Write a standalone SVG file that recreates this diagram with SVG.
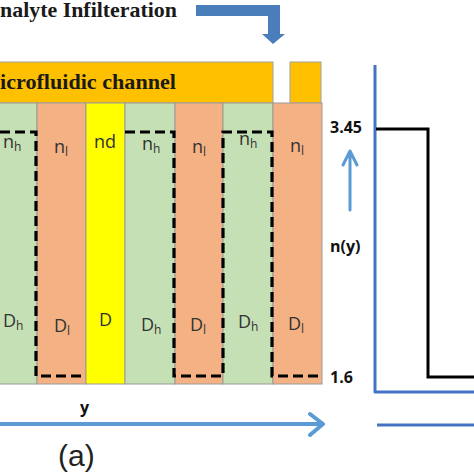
<svg xmlns="http://www.w3.org/2000/svg" width="474" height="474" viewBox="0 0 474 474">
<style>
.serif{font-family:"Liberation Serif","Times New Roman",serif;font-weight:bold;fill:#1a1a1a}
.lbl{font-family:"Open Sans","Liberation Sans",sans-serif;fill:#333;font-size:18px}
.sub{font-size:12px}
.num{font-family:"Open Sans","Liberation Sans",sans-serif;font-weight:bold;fill:#111;font-size:16px}
.green{fill:#C5E0B4;stroke:#9a9a9a;stroke-width:1}
.orange{fill:#F4B183;stroke:#9a9a9a;stroke-width:1}
.yellow{fill:#FFFF00;stroke:#9a9a9a;stroke-width:1}
.chan{fill:#FFC000;stroke:#a0a0a0;stroke-width:1}
.dash{fill:none;stroke:#000;stroke-width:3.2;stroke-dasharray:10 5}
</style>
<rect width="474" height="474" fill="#fff"/>

<g id="title">
<text class="serif" x="0" y="17" font-size="22" textLength="177" lengthAdjust="spacingAndGlyphs">nalyte Infilteration</text>
</g>

<g id="infiltration-arrow">
<polygon points="196,5 280,5 280,34 285,34 273,44 262,34 268,34 268,16 196,16" fill="#4A7EBB"/>
</g>

<g id="channel">
<rect class="chan" x="-2" y="62" width="275" height="41"/>
<rect class="chan" x="290" y="62" width="31" height="41"/>
<text class="serif" x="0" y="89" font-size="22" textLength="176" lengthAdjust="spacingAndGlyphs">icrofluidic channel</text>
</g>

<g id="layers">
<rect class="green" x="-2" y="103" width="39" height="281"/>
<rect class="orange" x="37" y="103" width="49" height="281"/>
<rect class="yellow" x="86" y="103" width="39" height="281"/>
<rect class="green" x="125" y="103" width="50" height="281"/>
<rect class="orange" x="175" y="103" width="48" height="281"/>
<rect class="green" x="223" y="103" width="50" height="281"/>
<rect class="orange" x="273" y="103" width="49" height="281"/>
</g>

<g id="profile-dashed">
<path class="dash" d="M0,132 H36 V376 H86"/>
<path class="dash" d="M125,132 H174 V376 H223 V132 H272 V376 H322"/>
</g>

<g id="layer-labels">
<text class="lbl" x="3" y="148">n<tspan class="sub" dy="3">h</tspan></text>
<text class="lbl" x="54" y="153">n<tspan class="sub" dy="3">l</tspan></text>
<text class="lbl" x="94" y="148">nd</text>
<text class="lbl" x="142" y="150">n<tspan class="sub" dy="3">h</tspan></text>
<text class="lbl" x="192" y="153">n<tspan class="sub" dy="3">l</tspan></text>
<text class="lbl" x="239" y="145">n<tspan class="sub" dy="3">h</tspan></text>
<text class="lbl" x="290" y="152">n<tspan class="sub" dy="3">l</tspan></text>

<text class="lbl" x="3" y="327">D<tspan class="sub" dy="3">h</tspan></text>
<text class="lbl" x="54" y="332">D<tspan class="sub" dy="3">l</tspan></text>
<text class="lbl" x="99" y="326">D</text>
<text class="lbl" x="141" y="331">D<tspan class="sub" dy="3">h</tspan></text>
<text class="lbl" x="190" y="331">D<tspan class="sub" dy="3">l</tspan></text>
<text class="lbl" x="238" y="328">D<tspan class="sub" dy="3">h</tspan></text>
<text class="lbl" x="288" y="330">D<tspan class="sub" dy="3">l</tspan></text>
</g>

<g id="axis-labels">
<text class="num" x="330" y="133">3.45</text>
<text class="num" x="330" y="252">n(y)</text>
<text class="num" x="330" y="383">1.6</text>
<text class="num" x="80" y="413">y</text>
<text x="58" y="466" font-family="Liberation Sans, Arial, sans-serif" font-size="30" fill="#222">(a)</text>
</g>

<g id="connectors" fill="none" stroke-linecap="round" stroke-linejoin="round">
<path d="M350,210 V151 M343,165 L350,151 L357,165" stroke="#5B9BD5" stroke-width="3"/>
<path d="M0,424 H322 M310,414 L323,424 L310,435" stroke="#5B9BD5" stroke-width="4"/>
<path d="M375,65 V392 H474" stroke="#4472C4" stroke-width="3" stroke-linecap="butt"/>
<path d="M377,425 H474" stroke="#4472C4" stroke-width="3" stroke-linecap="butt"/>
<path d="M376,129 H428 V377 H474" stroke="#000" stroke-width="3" stroke-linejoin="miter" stroke-linecap="butt"/>
</g>
</svg>
